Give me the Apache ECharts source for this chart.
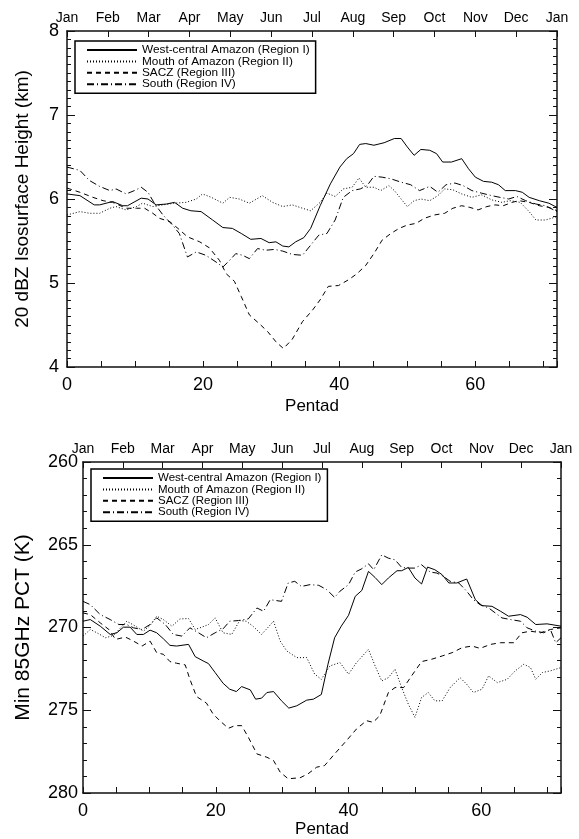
<!DOCTYPE html>
<html><head><meta charset="utf-8">
<script src="https://cdn.jsdelivr.net/npm/echarts@6/dist/echarts.min.js"></script>
<style>html,body{margin:0;padding:0;background:#fff}#c{width:579px;height:839px}</style>
</head><body><div id="c"></div><script>
const months = ['Jan','Feb','Mar','Apr','May','Jun','Jul','Aug','Sep','Oct','Nov','Dec','Jan'];
const regionNames = ['West-central Amazon (Region I)','Mouth of Amazon (Region II)','SACZ (Region III)','South (Region IV)'];
const topYTicks = [4, 5, 6, 7, 8];
const botYTicks = [260, 265, 270, 275, 280];

// Top panel: 20 dBZ isosurface height (km), [pentad, value]
const topRegionI = [[0,6.06],[1.9,6.04],[4,5.93],[4.8,5.93],[6.7,5.97],[8.2,5.92],[8.9,5.92],[10.9,6.01],[11.9,6.0],[13.1,5.93],[14.6,5.94],[15.8,5.96],[17,5.89],[18.2,5.86],[19.7,5.85],[21.4,5.75],[22.9,5.66],[24.3,5.65],[25.6,5.59],[27,5.52],[28.5,5.53],[29.7,5.48],[30.7,5.49],[31.7,5.44],[32.6,5.43],[33.6,5.49],[34.8,5.54],[35.8,5.65],[37.2,5.92],[38.7,6.18],[40.1,6.38],[41.1,6.48],[42.1,6.54],[43,6.65],[43.9,6.66],[45.1,6.64],[46.6,6.67],[48.1,6.72],[49.1,6.72],[50,6.62],[51,6.52],[52,6.59],[53.3,6.58],[54.3,6.54],[55.2,6.44],[56.5,6.44],[58,6.48],[59,6.36],[60,6.26],[61.2,6.21],[62.4,6.2],[63.4,6.17],[64.4,6.1],[65.9,6.1],[66.9,6.08],[67.9,6.02],[69.4,5.98],[70.8,5.95],[72,5.9]];
const topRegionII = [[0,5.81],[1.9,5.85],[3.3,5.83],[4.8,5.83],[6.3,5.89],[7.2,5.91],[8.7,5.87],[10.2,5.91],[11.1,5.95],[12.6,5.91],[14.1,5.93],[15.8,5.95],[17.5,5.96],[19,6.0],[19.9,6.06],[21.2,6.02],[22.9,5.95],[23.9,6.02],[25.3,6.0],[26.8,5.95],[28.7,6.04],[30.2,5.96],[31.7,5.91],[33.1,5.93],[34.6,5.89],[35.8,5.86],[37.2,5.96],[38.2,6.07],[39.4,6.03],[40.6,6.12],[41.9,6.14],[42.9,6.25],[43.9,6.14],[45.1,6.14],[46.1,6.1],[47.3,6.16],[48.1,6.1],[49.1,6.0],[50,5.91],[51,5.98],[52,6.0],[53.3,5.98],[54.5,6.04],[55.5,6.12],[56.7,6.11],[58,6.06],[59.5,6.02],[60.9,6.05],[62.4,5.99],[63.9,5.96],[65.1,5.98],[66.6,5.96],[67.9,5.85],[68.9,5.75],[70.3,5.75],[72,5.79]];
const topRegionIII = [[0,6.13],[1.9,6.08],[3.8,6.02],[5.3,5.98],[6.7,5.96],[8.7,5.89],[10.2,5.89],[11.4,5.89],[12.6,5.83],[13.6,5.77],[15.1,5.73],[16.3,5.65],[17.7,5.55],[19.5,5.49],[20.9,5.42],[22.4,5.27],[23.4,5.11],[24.6,5.02],[25.6,4.84],[26.8,4.62],[28.2,4.52],[29.5,4.42],[30.7,4.3],[31.8,4.22],[33.1,4.33],[34.6,4.54],[36.1,4.68],[37.2,4.8],[38.4,4.96],[39.9,4.97],[41.4,5.04],[42.6,5.11],[43.9,5.21],[45.1,5.35],[46.3,5.51],[47.6,5.59],[48.8,5.65],[50,5.69],[51.3,5.71],[52.5,5.77],[54,5.81],[55.5,5.83],[56.7,5.89],[58,5.92],[59.2,5.9],[60.4,5.87],[61.7,5.91],[62.9,5.93],[64.1,5.92],[65.4,5.96],[66.4,5.98],[67.9,5.96],[69.4,5.92],[70.8,5.9],[72,5.86]];
const topRegionIV = [[0,6.38],[1.9,6.34],[3.3,6.22],[4.8,6.15],[6.3,6.1],[7.2,6.12],[8.7,6.06],[9.9,6.1],[10.9,6.14],[11.9,6.08],[12.9,5.94],[14.1,5.81],[15.5,5.69],[16.5,5.59],[17.7,5.31],[19,5.37],[20.4,5.33],[21.9,5.25],[22.9,5.19],[23.9,5.27],[24.8,5.35],[25.8,5.33],[26.8,5.29],[28,5.41],[29.2,5.39],[30.5,5.4],[31.7,5.38],[33.1,5.34],[34.6,5.33],[35.8,5.45],[37,5.57],[38.2,5.59],[39.4,5.75],[40.6,6.02],[41.9,6.1],[43.1,6.12],[44.1,6.16],[45.1,6.27],[46.3,6.26],[47.6,6.24],[49.1,6.2],[50.5,6.17],[51.8,6.1],[53.3,6.15],[54.5,6.08],[55.7,6.17],[57,6.19],[58.2,6.16],[59.5,6.1],[60.9,6.07],[62.4,6.04],[63.6,6.02],[64.9,6.0],[66.1,6.03],[67.4,5.98],[68.9,5.94],[70.3,5.92],[72,5.85]];

// Bottom panel: min 85 GHz PCT (K), [pentad, value]
const botRegionI = [[0,269.62],[1.1,269.52],[2.6,269.92],[4.1,270.42],[5.1,270.32],[6.1,269.98],[7.1,269.98],[8.1,270.42],[9.1,270.42],[10.1,270.16],[11.1,270.32],[12.1,270.68],[13.1,271.08],[14.1,271.12],[15.9,271.02],[16.9,271.76],[18.1,272.02],[18.9,272.18],[19.9,272.72],[21.1,273.37],[22.1,273.73],[23.1,273.87],[23.9,273.57],[25.2,273.77],[26,274.33],[26.9,274.27],[27.7,273.93],[28.7,273.87],[29.9,274.43],[31,274.87],[32.2,274.73],[33.7,274.39],[34.7,274.33],[35.9,274.05],[36.9,272.22],[37.9,270.62],[38.9,269.92],[40,269.26],[41,268.12],[42,267.76],[43,266.61],[44,266.98],[45,267.41],[46,267.01],[47.3,266.57],[48,266.57],[49,266.37],[50,267.01],[51,267.37],[51.9,266.35],[53,266.51],[54.1,266.81],[55.1,267.31],[56.3,267.31],[57.8,267.07],[59.1,268.32],[60.1,268.68],[61.6,268.72],[62.9,269.02],[64.1,269.32],[65.9,269.22],[66.9,269.38],[68.2,269.82],[69.9,269.78],[72,269.92]];
const botRegionII = [[0,270.52],[1.1,270.12],[2.1,270.32],[3.4,270.62],[4.6,270.48],[5.9,269.92],[6.6,269.62],[7.9,269.92],[9.1,270.22],[10.1,269.88],[11.1,269.32],[12.1,269.52],[13.4,269.92],[14.6,269.48],[15.9,269.46],[16.9,270.12],[17.9,269.98],[18.9,269.82],[19.9,269.42],[21.1,270.32],[22.4,270.42],[23.6,269.58],[24.6,269.62],[25.6,269.92],[26.9,270.42],[28.7,269.62],[29.7,270.82],[30.7,271.42],[32.2,271.82],[33.7,271.82],[34.9,272.82],[35.9,273.13],[37.2,272.32],[38.7,272.12],[40,272.82],[41.2,272.12],[43,271.32],[44,272.32],[45,273.23],[46,273.03],[47,272.52],[48,273.63],[49,274.63],[50,275.43],[51,274.23],[52,273.93],[53,274.43],[54.1,274.43],[55.3,273.63],[56.8,273.03],[57.8,273.43],[58.8,273.93],[60.1,273.73],[61.1,272.92],[62.4,273.33],[63.9,273.13],[65.1,272.62],[66.4,272.22],[67.4,272.42],[68.2,273.13],[69.2,272.72],[70.4,272.62],[72,272.42]];
const botRegionIII = [[0,269.12],[1.1,269.22],[2.6,269.72],[3.9,270.12],[4.9,270.72],[6.4,270.58],[7.6,270.82],[8.9,271.12],[10.1,270.82],[11.1,271.52],[12.1,271.62],[13.1,272.06],[14.1,272.16],[15.4,272.26],[16.1,273.13],[17.1,274.17],[18.6,274.57],[19.6,275.23],[20.6,275.63],[21.9,276.09],[22.9,275.93],[23.9,275.93],[24.9,276.63],[26.2,277.64],[27.7,277.84],[28.7,278.04],[29.7,278.74],[30.9,279.14],[32.7,279.08],[33.9,278.84],[35.2,278.44],[36.4,278.34],[37.9,277.64],[39.7,276.83],[41.2,276.13],[42.7,275.63],[43.7,275.73],[44.7,275.33],[46,273.93],[47,273.63],[48.3,273.63],[49.5,272.92],[51,272.06],[52.5,271.92],[54.1,271.72],[55.6,271.52],[57.1,271.22],[58.6,271.12],[59.8,271.26],[61.4,271.02],[62.9,270.92],[64.9,270.92],[66.1,270.32],[67.4,270.22],[68.9,270.32],[70.4,270.12],[72,270.02]];
const botRegionIV = [[0,268.42],[1.1,268.62],[2.6,269.22],[4.1,269.52],[5.4,269.82],[6.6,269.82],[7.6,270.02],[8.9,270.12],[10.1,269.82],[11.1,269.42],[12.4,269.82],[13.6,270.42],[14.9,270.52],[16.1,270.02],[17.4,270.32],[18.6,270.62],[19.9,270.32],[21.1,270.08],[22.1,269.62],[23.4,269.58],[24.9,269.48],[26.2,268.82],[27.2,269.02],[28.2,268.32],[29.9,268.42],[30.9,267.31],[31.9,267.21],[32.9,267.52],[34.2,267.41],[35.5,267.45],[36.7,267.71],[37.9,268.18],[38.7,267.81],[40,267.41],[41,266.65],[42,266.45],[43,266.15],[43.8,266.51],[45,265.61],[46,265.81],[47,265.91],[48,266.37],[49,266.41],[50,266.41],[51,266.21],[52.3,266.65],[53.3,266.71],[54.3,266.91],[55.3,267.21],[56.6,267.31],[57.8,267.81],[58.8,268.32],[59.8,268.62],[61.1,268.82],[62.1,269.12],[63.1,269.42],[64.4,269.52],[65.9,269.62],[66.9,270.02],[68.2,270.22],[69.4,270.32],[70.4,270.12],[71.2,270.92],[72,270.62]];

const FONT = 'Liberation Sans';
const AXC = '#111';
const dashTypes = ['solid', [1, 2], [5, 4], [7, 3, 1, 3]];

function bottomX(grid, labelMargin, nameGap) {
  return {
    type: 'value', gridIndex: grid, position: 'bottom', min: 0, max: 72, interval: 5,
    name: 'Pentad', nameLocation: 'middle', nameGap: nameGap,
    nameTextStyle: { fontFamily: FONT, fontSize: 17, color: '#000' },
    axisLine: { show: true, onZero: false, lineStyle: { color: AXC, width: 1.5 } },
    axisTick: { show: true, inside: true, length: 6, lineStyle: { color: AXC, width: 1 } },
    axisLabel: { show: true, margin: labelMargin, fontFamily: FONT, fontSize: 18, color: '#000',
      formatter: v => (v % 20 === 0 ? String(v) : '') },
    splitLine: { show: false }
  };
}
function topX(grid) {
  return {
    type: 'value', gridIndex: grid, position: 'top', min: 0, max: 72, interval: 6,
    axisLine: { show: true, onZero: false, lineStyle: { color: AXC, width: 1.5 } },
    axisTick: { show: true, inside: true, length: 6, lineStyle: { color: AXC, width: 1 } },
    axisLabel: { show: true, margin: 6, fontFamily: FONT, fontSize: 14, color: '#000',
      formatter: v => months[Math.round(v / 6)] || '' },
    splitLine: { show: false }
  };
}
function leftY(grid, ticks, minorSplit, name, nameGap, nameSize, inverse, labelMargin) {
  return {
    type: 'value', gridIndex: grid, position: 'left', min: ticks[0], max: ticks[ticks.length - 1],
    interval: ticks[1] - ticks[0], inverse: inverse,
    name: name, nameLocation: 'middle', nameGap: nameGap,
    nameTextStyle: { fontFamily: FONT, fontSize: nameSize, color: '#000' },
    axisLine: { show: true, onZero: false, lineStyle: { color: AXC, width: 1.5 } },
    axisTick: { show: true, inside: true, length: 8, lineStyle: { color: AXC, width: 1 } },
    minorTick: { show: true, splitNumber: minorSplit, length: 4, lineStyle: { color: AXC, width: 1 } },
    axisLabel: { show: true, margin: labelMargin, fontFamily: FONT, fontSize: 18, color: '#000' },
    splitLine: { show: false }, minorSplitLine: { show: false }
  };
}
function rightY(grid, ticks, minorSplit, inverse) {
  return {
    type: 'value', gridIndex: grid, position: 'right', min: ticks[0], max: ticks[ticks.length - 1],
    interval: ticks[1] - ticks[0], inverse: inverse,
    axisLine: { show: true, onZero: false, lineStyle: { color: AXC, width: 1.5 } },
    axisTick: { show: true, inside: true, length: 8, lineStyle: { color: AXC, width: 1 } },
    minorTick: { show: true, splitNumber: minorSplit, length: 4, lineStyle: { color: AXC, width: 1 } },
    axisLabel: { show: false },
    splitLine: { show: false }, minorSplitLine: { show: false }
  };
}

const topSets = [topRegionI, topRegionII, topRegionIII, topRegionIV];
const botSets = [botRegionI, botRegionII, botRegionIII, botRegionIV];
const series = [];
topSets.forEach((d, i) => series.push({
  name: regionNames[i], type: 'line', xAxisIndex: 0, yAxisIndex: 0, data: d,
  symbol: 'none', showSymbol: false, smooth: false,
  lineStyle: { color: '#000', width: 1, type: dashTypes[i] }, itemStyle: { color: '#000' }
}));
botSets.forEach((d, i) => series.push({
  name: regionNames[i], type: 'line', xAxisIndex: 2, yAxisIndex: 2, data: d,
  symbol: 'none', showSymbol: false, smooth: false,
  lineStyle: { color: '#000', width: 1, type: dashTypes[i] }, itemStyle: { color: '#000' }
}));

function legendAt(left, top, fs) {
  return {
    data: regionNames, orient: 'vertical', left: left, top: top,
    itemWidth: 50, itemHeight: 12, itemGap: -0.6,
    padding: [3, 6, 3, 11],
    borderColor: '#000', borderWidth: 1.5, backgroundColor: '#fff',
    selectedMode: false,
    itemStyle: { opacity: 0, borderWidth: 0 },
    textStyle: { fontFamily: FONT, fontSize: fs, color: '#000' }
  };
}

const chart = echarts.init(document.getElementById('c'), null, { renderer: 'canvas' });
chart.setOption({
  animation: false,
  backgroundColor: '#fff',
  grid: [
    { left: 67, right: 22, top: 31, height: 336 },
    { left: 83, right: 18, top: 462, height: 332 }
  ],
  legend: [legendAt(75, 41, 11.8), legendAt(91, 469, 11.5)],
  xAxis: [bottomX(0, 9, 31), topX(0), bottomX(1, 9, 28), topX(1)],
  yAxis: [
    leftY(0, topYTicks, 10, '20 dBZ Isosurface Height (km)', 35, 19, false, 8),
    rightY(0, topYTicks, 10, false),
    leftY(1, botYTicks, 5, 'Min 85GHz PCT (K)', 49, 21, true, 5),
    rightY(1, botYTicks, 5, true)
  ],
  series: series
});
</script></body></html>
